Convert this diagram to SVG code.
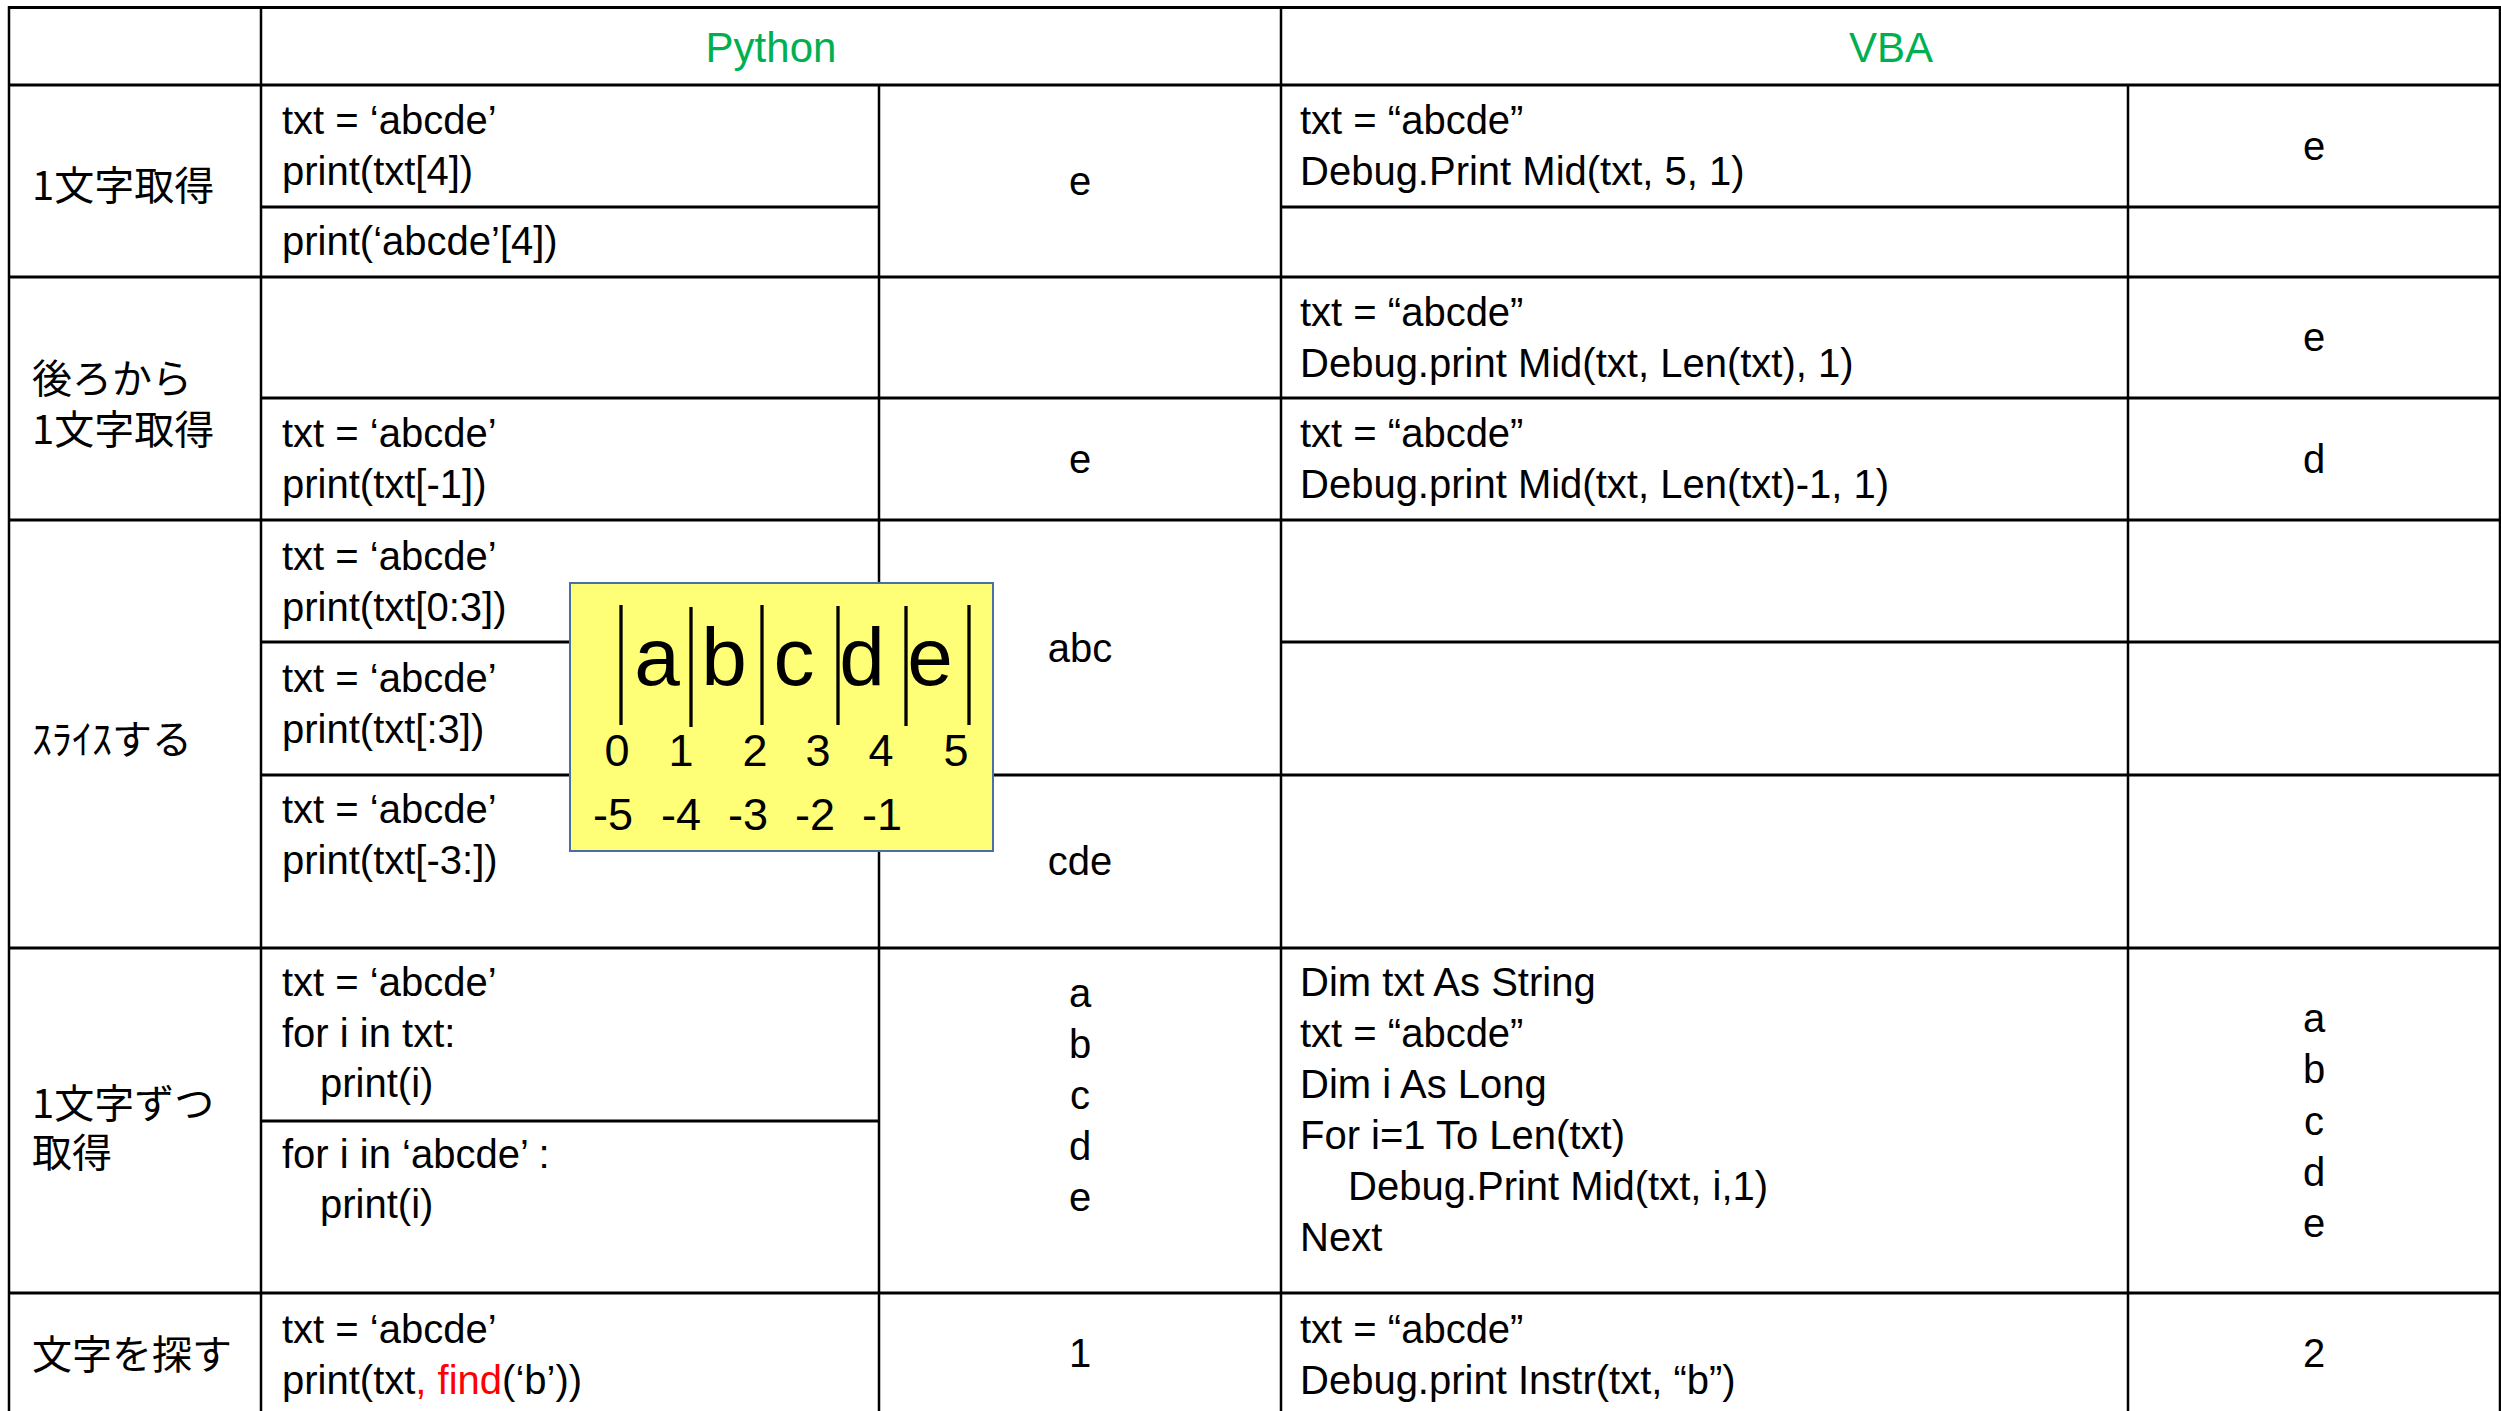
<svg xmlns="http://www.w3.org/2000/svg" width="2501" height="1411" viewBox="0 0 2501 1411">
<style>
.code{font-family:"Liberation Sans","Noto Sans CJK JP",sans-serif;font-size:40px;fill:#000}
.res{font-family:"Liberation Sans",sans-serif;font-size:40px;fill:#000;text-anchor:middle}
.jp{font-family:"Noto Sans CJK JP",sans-serif;font-size:40px;fill:#000}
.hdr{font-family:"Liberation Sans",sans-serif;font-size:42px;fill:#00B050;text-anchor:middle}
.red{fill:#FF0000}
.h line{stroke:#000;stroke-width:3}
.v line{stroke:#000;stroke-width:2.5}
.bar{stroke:#000;stroke-width:3.3}
.big{font-family:"Liberation Sans",sans-serif;font-size:82px;fill:#000;text-anchor:middle}
.num{font-family:"Liberation Sans",sans-serif;font-size:45px;fill:#000;text-anchor:middle}
</style>
<rect x="0" y="0" width="2501" height="1411" fill="#fff"/>
<g id="grid">
<g class="h">
<line x1="9" y1="7.5" x2="2500" y2="7.5"/>
<line x1="9" y1="85" x2="2500" y2="85"/>
<line x1="261" y1="207" x2="879" y2="207"/>
<line x1="1281" y1="207" x2="2500" y2="207"/>
<line x1="9" y1="277" x2="2500" y2="277"/>
<line x1="261" y1="398" x2="2500" y2="398"/>
<line x1="9" y1="520" x2="2500" y2="520"/>
<line x1="261" y1="642" x2="879" y2="642"/>
<line x1="1281" y1="642" x2="2500" y2="642"/>
<line x1="261" y1="775" x2="2500" y2="775"/>
<line x1="9" y1="948" x2="2500" y2="948"/>
<line x1="261" y1="1121" x2="879" y2="1121"/>
<line x1="9" y1="1293" x2="2500" y2="1293"/>
</g>
<g class="v">
<line x1="9" y1="6" x2="9" y2="1411"/>
<line x1="261" y1="6" x2="261" y2="1411"/>
<line x1="879" y1="85" x2="879" y2="1411"/>
<line x1="1281" y1="6" x2="1281" y2="1411"/>
<line x1="2128" y1="85" x2="2128" y2="1411"/>
<line x1="2500" y1="6" x2="2500" y2="1411"/>
</g>
</g>
<g id="header">
<text class="hdr" x="771" y="62">Python</text>
<text class="hdr" x="1891" y="62">VBA</text>
</g>
<g id="row1">
<text class="jp" x="32" y="200">1文字取得</text>
<text class="code" x="282" y="134">txt = ‘abcde’</text>
<text class="code" x="282" y="185">print(txt[4])</text>
<text class="code" x="282" y="255">print(‘abcde’[4])</text>
<text class="res" x="1080" y="195">e</text>
<text class="code" x="1300" y="134">txt = “abcde”</text>
<text class="code" x="1300" y="185">Debug.Print Mid(txt, 5, 1)</text>
<text class="res" x="2314" y="160">e</text>
</g>
<g id="row2">
<text class="jp" x="32" y="393">後ろから<tspan x="32" y="444">1文字取得</tspan></text>
<text class="code" x="282" y="447">txt = ‘abcde’</text>
<text class="code" x="282" y="498">print(txt[-1])</text>
<text class="res" x="1080" y="473">e</text>
<text class="code" x="1300" y="326">txt = “abcde”</text>
<text class="code" x="1300" y="377">Debug.print Mid(txt, Len(txt), 1)</text>
<text class="res" x="2314" y="351">e</text>
<text class="code" x="1300" y="447">txt = “abcde”</text>
<text class="code" x="1300" y="498">Debug.print Mid(txt, Len(txt)-1, 1)</text>
<text class="res" x="2314" y="473">d</text>
</g>
<g id="row3">
<text class="jp" x="32" y="754">ｽﾗｲｽする</text>
<text class="code" x="282" y="570">txt = ‘abcde’</text>
<text class="code" x="282" y="621">print(txt[0:3])</text>
<text class="code" x="282" y="692">txt = ‘abcde’</text>
<text class="code" x="282" y="743">print(txt[:3])</text>
<text class="code" x="282" y="823">txt = ‘abcde’</text>
<text class="code" x="282" y="874">print(txt[-3:])</text>
<text class="res" x="1080" y="662">abc</text>
<text class="res" x="1080" y="875">cde</text>
</g>
<g id="row4">
<text class="jp" x="32" y="1118">1文字ずつ<tspan x="32" y="1167">取得</tspan></text>
<text class="code" x="282" y="996">txt = ‘abcde’</text>
<text class="code" x="282" y="1047">for i in txt:</text>
<text class="code" x="320" y="1097">print(i)</text>
<text class="code" x="282" y="1168">for i in ‘abcde’ :</text>
<text class="code" x="320" y="1218">print(i)</text>
<text class="res" x="1080" y="1007">a</text>
<text class="res" x="1080" y="1058">b</text>
<text class="res" x="1080" y="1109">c</text>
<text class="res" x="1080" y="1160">d</text>
<text class="res" x="1080" y="1211">e</text>
<text class="code" x="1300" y="996">Dim txt As String</text>
<text class="code" x="1300" y="1047">txt = “abcde”</text>
<text class="code" x="1300" y="1098">Dim i As Long</text>
<text class="code" x="1300" y="1149">For i=1 To Len(txt)</text>
<text class="code" x="1348" y="1200">Debug.Print Mid(txt, i,1)</text>
<text class="code" x="1300" y="1251">Next</text>
<text class="res" x="2314" y="1032">a</text>
<text class="res" x="2314" y="1083">b</text>
<text class="res" x="2314" y="1135">c</text>
<text class="res" x="2314" y="1186">d</text>
<text class="res" x="2314" y="1237">e</text>
</g>
<g id="row5">
<text class="jp" x="32" y="1369">文字を探す</text>
<text class="code" x="282" y="1343">txt = ‘abcde’</text>
<text class="code" x="282" y="1394">print(txt<tspan class="red">, find</tspan>(‘b’))</text>
<text class="res" x="1080" y="1367">1</text>
<text class="code" x="1300" y="1343">txt = “abcde”</text>
<text class="code" x="1300" y="1394">Debug.print Instr(txt, “b”)</text>
<text class="res" x="2314" y="1367">2</text>
</g>
<g id="index-box">
<rect x="570" y="583" width="423" height="268" fill="#FFFF77" stroke="#4A6FA5" stroke-width="2"/>
<line class="bar" x1="621" y1="605" x2="621" y2="725"/>
<line class="bar" x1="691" y1="607" x2="691" y2="727"/>
<line class="bar" x1="762" y1="605" x2="762" y2="725"/>
<line class="bar" x1="838" y1="606" x2="838" y2="725"/>
<line class="bar" x1="906" y1="606" x2="906" y2="726"/>
<line class="bar" x1="969" y1="605" x2="969" y2="725"/>
<text class="big" x="657" y="685">a</text>
<text class="big" x="724" y="685">b</text>
<text class="big" x="794" y="685">c</text>
<text class="big" x="862" y="685">d</text>
<text class="big" x="930" y="685">e</text>
<text class="num" x="617" y="766">0</text>
<text class="num" x="681" y="766">1</text>
<text class="num" x="755" y="766">2</text>
<text class="num" x="818" y="766">3</text>
<text class="num" x="881" y="766">4</text>
<text class="num" x="956" y="766">5</text>
<text class="num" x="613" y="830">-5</text>
<text class="num" x="681" y="830">-4</text>
<text class="num" x="748" y="830">-3</text>
<text class="num" x="815" y="830">-2</text>
<text class="num" x="882" y="830">-1</text>
</g>
</svg>
